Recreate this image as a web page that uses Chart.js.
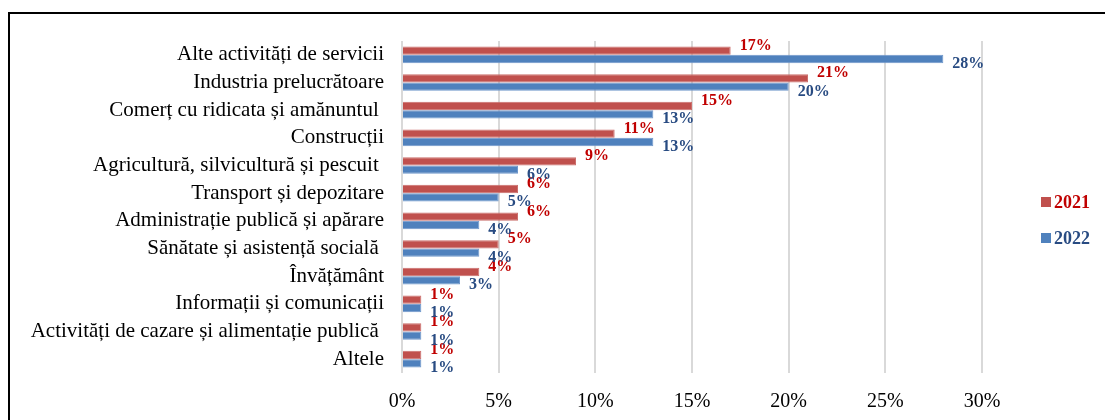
<!DOCTYPE html>
<html>
<head>
<meta charset="utf-8">
<script src="https://cdn.jsdelivr.net/npm/chart.js@4.4.1/dist/chart.umd.min.js"></script>
<style>
  html, body { margin: 0; padding: 0; background: #fff; }
  #wrap { position: relative; width: 1105px; height: 420px; overflow: hidden; }
  #frame { position: absolute; left: 8px; top: 12px; width: 1200px; height: 500px;
           border-top: 2px solid #000; border-left: 2px solid #000; }
  #chart { position: absolute; left: 0; top: 0; }
</style>
</head>
<body>
<div id="wrap">
  <div id="frame"></div>
  <canvas id="chart" width="1105" height="420"></canvas>
</div>
<script>
// categories (trailing spaces kept as in the source chart)
const categories = [
  "Alte activități de servicii",
  "Industria prelucrătoare",
  "Comerț cu ridicata și amănuntul ",
  "Construcții",
  "Agricultură, silvicultură și pescuit ",
  "Transport și depozitare",
  "Administrație publică și apărare",
  "Sănătate și asistență socială ",
  "Învățământ",
  "Informații și comunicații",
  "Activități de cazare și alimentație publică ",
  "Altele"
];
const values2021 = [17, 21, 15, 11, 9, 6, 6, 5, 4, 1, 1, 1];
const values2022 = [28, 20, 13, 13, 6, 5, 4, 4, 3, 1, 1, 1];
const seriesNames = ["2021", "2022"];
const xTicks = [0, 5, 10, 15, 20, 25, 30];

const serif = "'Liberation Serif', 'Times New Roman', serif";
const barColors = ["#C0504D", "#4F81BD"];
const barEdges = ["#CB6E6B", "#6F97CB"];
const textColors = ["#C00000", "#284B82"];

// value labels next to the bar ends
const valueLabels = {
  id: "valueLabels",
  afterDatasetsDraw(chart) {
    const ctx = chart.ctx;
    ctx.save();
    ctx.font = "bold 16px " + serif;
    ctx.textAlign = "left";
    ctx.textBaseline = "middle";
    chart.data.datasets.forEach((ds, di) => {
      const meta = chart.getDatasetMeta(di);
      meta.data.forEach((bar, i) => {
        ctx.fillStyle = textColors[di];
        const dy = di === 0 ? -5 : 5;
        ctx.fillText(ds.data[i] + "%", bar.x + 9, bar.y + dy);
      });
    });
    ctx.restore();
  }
};

// legend drawn at the right like the original
const sideLegend = {
  id: "sideLegend",
  afterDraw(chart) {
    const ctx = chart.ctx;
    ctx.save();
    ctx.font = "bold 18px " + serif;
    ctx.textBaseline = "middle";
    chart.data.datasets.forEach((ds, di) => {
      const y = 202 + di * 36;
      ctx.fillStyle = ds.backgroundColor;
      ctx.fillRect(1041, y - 5, 10, 10);
      ctx.fillStyle = textColors[di];
      ctx.fillText(ds.label, 1054, y + 1);
    });
    ctx.restore();
  }
};

new Chart(document.getElementById("chart"), {
  type: "bar",
  data: {
    labels: categories,
    datasets: [
      { label: seriesNames[0], data: values2021, backgroundColor: barColors[0],
        borderColor: barEdges[0], borderWidth: 1 },
      { label: seriesNames[1], data: values2022, backgroundColor: barColors[1],
        borderColor: barEdges[1], borderWidth: 1 }
    ]
  },
  options: {
    indexAxis: "y",
    responsive: false,
    animation: false,
    layout: { padding: { top: 41, right: 123, bottom: 0, left: 10 } },
    datasets: { bar: { categoryPercentage: 0.6, barPercentage: 1.0 } },
    plugins: {
      legend: { display: false },
      tooltip: { enabled: false }
    },
    scales: {
      x: {
        min: 0,
        max: 30,
        afterBuildTicks: (s) => { s.ticks = xTicks.map(v => ({ value: v })); },
        afterFit: (s) => { s.height = 47; },
        ticks: {
          callback: (v) => v + "%",
          color: "#000",
          font: { family: serif, size: 20 },
          padding: 17,
          maxRotation: 0
        },
        grid: { color: "#D9D9D9", lineWidth: 2, drawTicks: false },
        border: { display: false }
      },
      y: {
        afterFit: (s) => { s.width = 392; },
        ticks: {
          color: "#000",
          font: { family: serif, size: 21 },
          padding: 18,
          autoSkip: false
        },
        grid: { display: false, drawTicks: false },
        border: { display: false }
      }
    }
  },
  plugins: [valueLabels, sideLegend]
});
</script>
</body>
</html>
